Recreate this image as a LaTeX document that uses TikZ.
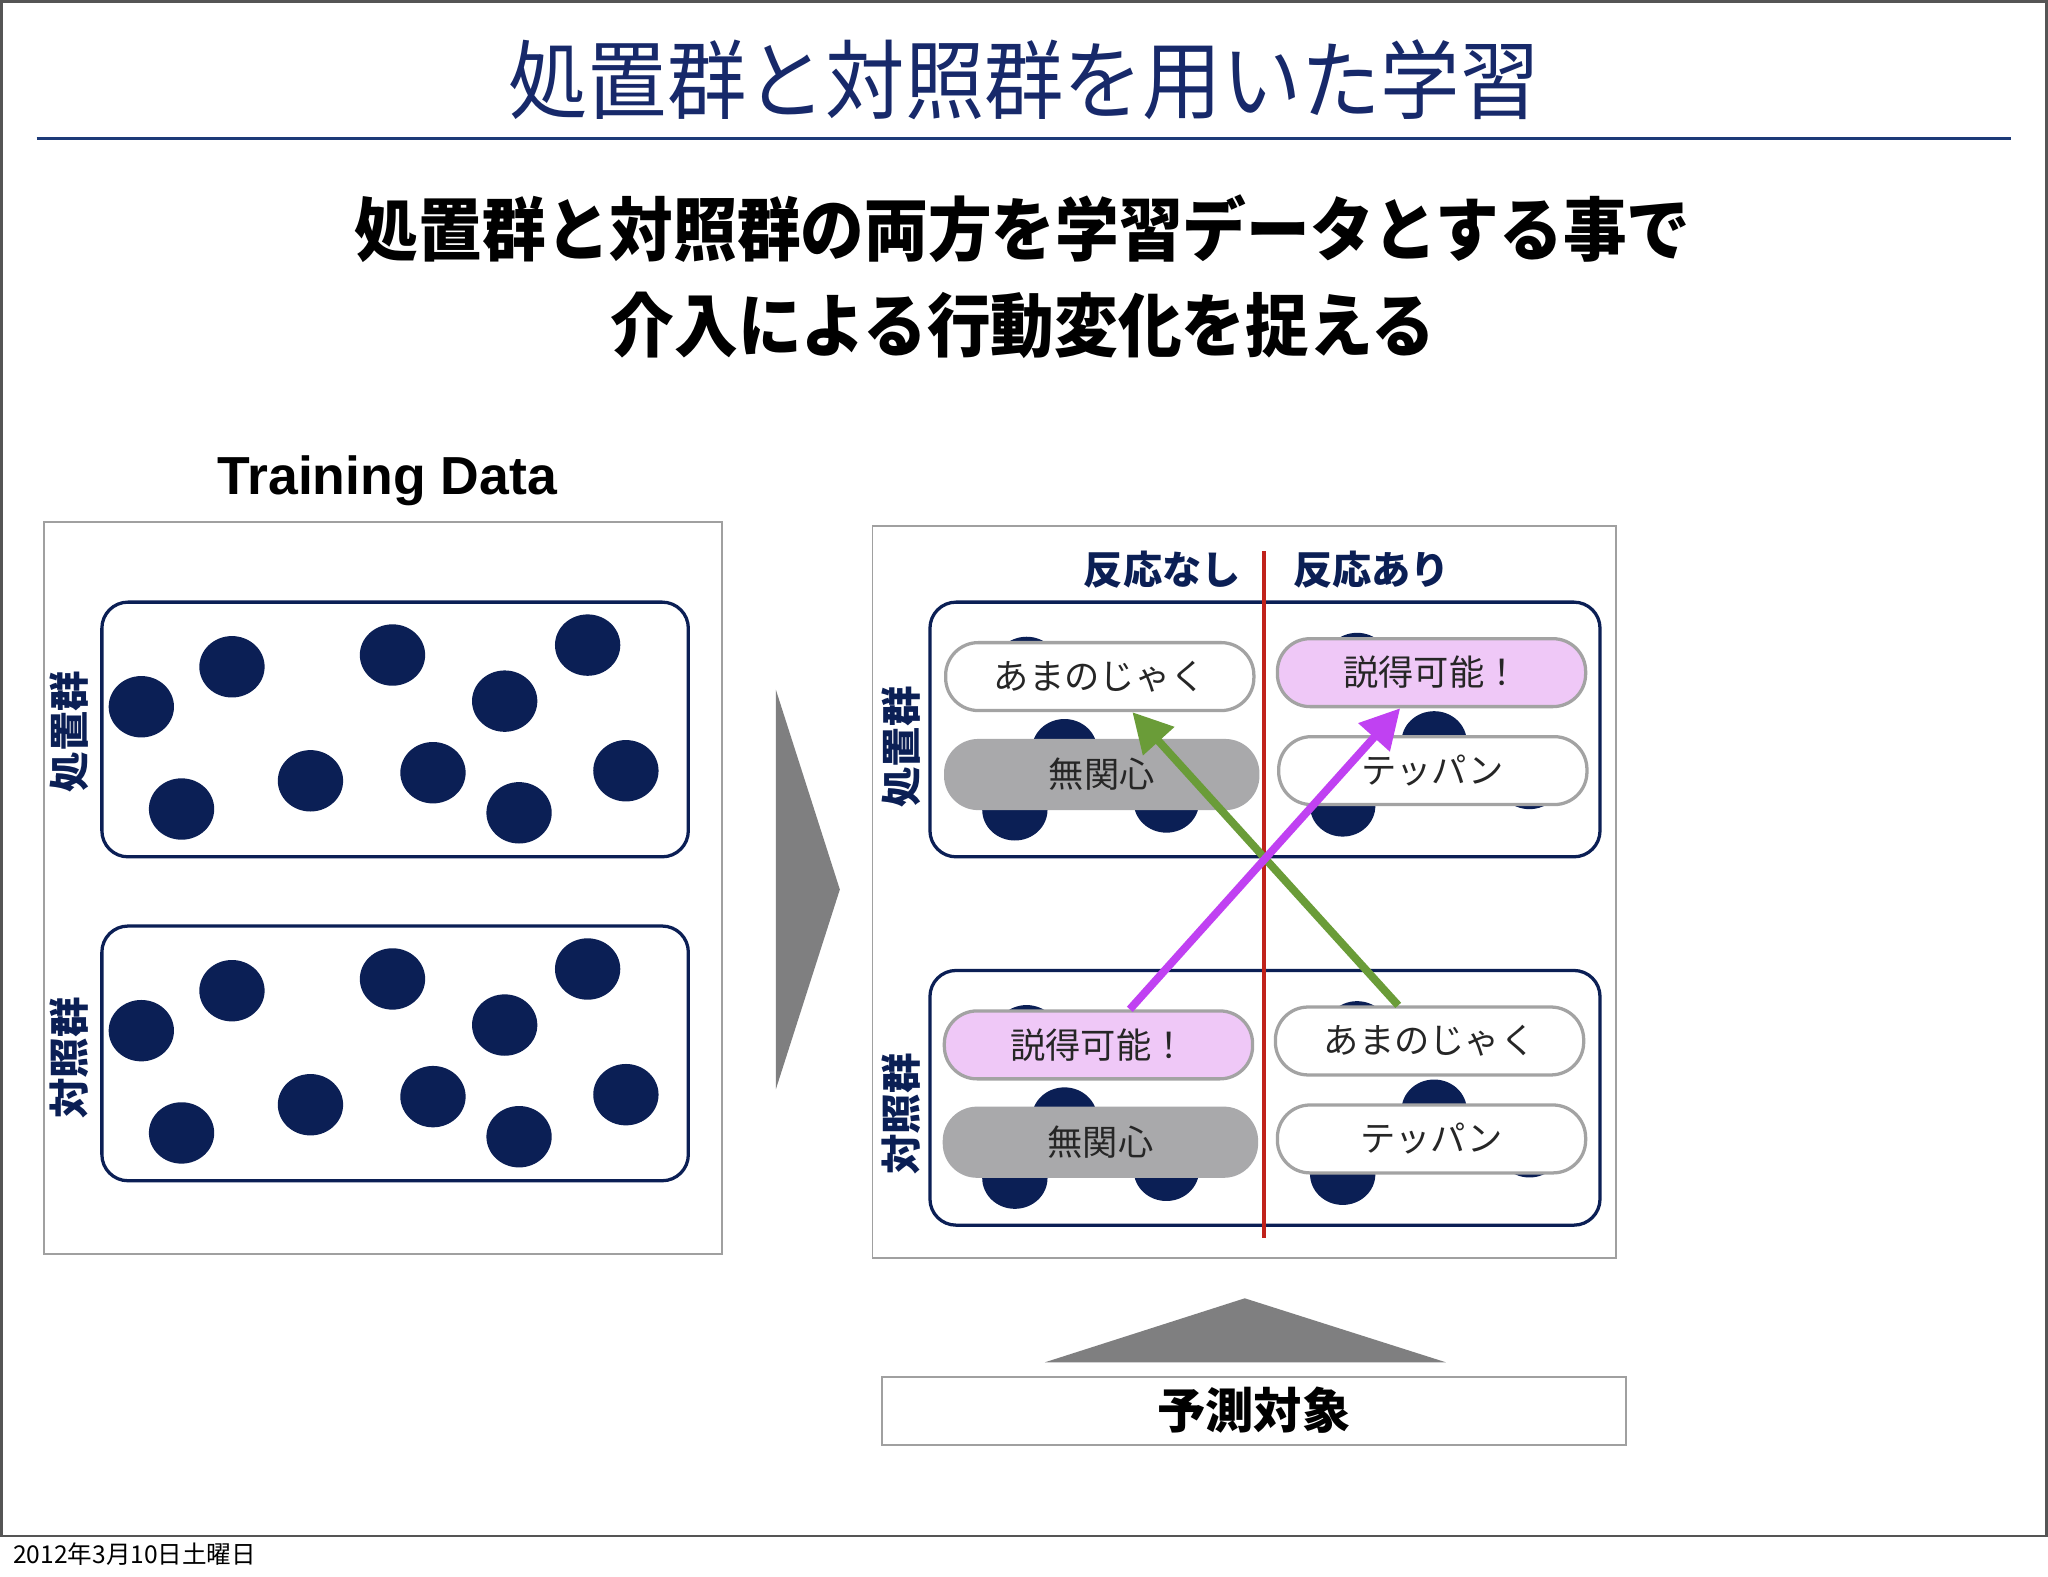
\documentclass[tikz,border=0pt]{standalone}
\usepackage{fontspec}
\setmainfont{Noto Sans CJK JP}
\newfontfamily\latinsans{Liberation Sans}
\usetikzlibrary{shapes.geometric,arrows.meta}
\definecolor{navy}{HTML}{0B1F55}
\definecolor{titlec}{HTML}{17296A}
\definecolor{rulec}{HTML}{1D3A78}
\definecolor{redl}{HTML}{C0221B}
\definecolor{greena}{HTML}{6A9C38}
\definecolor{purplea}{HTML}{C041F2}
\definecolor{pinkf}{HTML}{EFC8F7}
\definecolor{grayf}{HTML}{A9A9AB}
\definecolor{labb}{HTML}{A3A3A3}
\definecolor{panelb}{HTML}{A0A0A0}
\definecolor{trig}{HTML}{7F7F80}
\definecolor{framec}{HTML}{555555}
\newcommand{\fsz}[1]{\fontsize{#1}{#1}\selectfont}
\begin{document}
\begin{tikzpicture}[x=1pt,y=-1pt,
  dot/.style={ellipse,fill=navy,minimum width=50pt,minimum height=47pt,inner sep=0pt},
  panel/.style={draw=panelb,line width=1.5pt,fill=white,inner sep=0pt},
  grp/.style={draw=navy,line width=2.5pt,rounded corners=20pt,inner sep=0pt},
  lab/.style={draw=labb,line width=2.5pt,rounded corners=25pt,minimum width=236pt,minimum height=52pt,inner sep=0pt,font=\fsz{27},text=black!85},
  labw/.style={lab,fill=white},
  labp/.style={lab,fill=pinkf},
  labg/.style={lab,fill=grayf,draw=grayf,minimum width=239pt},
  vlab/.style={rotate=90,font=\bfseries\fsz{31},text=navy,inner sep=0pt},
  hlab/.style={font=\bfseries\fsz{30},text=navy,inner sep=0pt},
  tri/.style={fill=trig},
  garrow/.style={draw=greena,line width=6pt,-{Triangle[length=30pt,width=31pt]}},
  parrow/.style={draw=purplea,line width=6pt,-{Triangle[length=30pt,width=31pt]}}
]
\useasboundingbox (0,0) rectangle (1568,1207);
\fill[white] (0,0) rectangle (1568,1207);
\draw[framec,line width=2pt] (1,1) rectangle (1567,1176);

% title
\node[font=\fsz{66},text=titlec,xscale=0.92,inner sep=0pt] (title) at (784,61) {処置群と対照群を用いた学習};
\coordinate (rl) at (28,106);
\coordinate (rr) at (1540,106);
\draw[rulec,line width=2.5pt] (rl) -- (rr);

\node[font=\bfseries\fsz{53},xscale=0.92,inner sep=0pt] (sub1) at (783,175) {処置群と対照群の両方を学習データとする事で};
\node[font=\bfseries\fsz{53},xscale=0.92,inner sep=0pt] (sub2) at (783,249) {介入による行動変化を捉える};

% left panel
\node[font=\latinsans\bfseries\fsz{41},inner sep=0pt,anchor=base] (td) at (296.5,378.4) {Training Data};
\node[panel,minimum width=519pt,minimum height=560pt] (lp) at (293.5,680) {};
\node[grp,minimum width=449pt,minimum height=195pt] (lt) at (302.5,558.5) {};
\node[grp,minimum width=449pt,minimum height=195pt] (lc) at (302.5,806.5) {};
\node[vlab] (ltl) at (53,560) {処置群};
\node[vlab] (lcl) at (53,810) {対照群};
\foreach \x/\y [count=\i] in {108.2/541.1,177.6/510.5,300.5/501.5,449.9/493.9,386.4/536.8,139.0/619.4,237.7/597.8,331.5/591.6,397.4/622.3,479.2/590.1}{
  \node[dot] (ltd\i) at (\x,\y) {};
  \node[dot] (lcd\i) at (\x,\y+248) {};
}

% big arrow right
\fill[tri] (594,528) -- (643,681) -- (594,834) -- cycle;

% right panel
\node[panel,minimum width=569pt,minimum height=560pt] (rp) at (952.5,683) {};
\node[hlab,anchor=east] (nr) at (950,436) {反応なし};
\node[hlab,anchor=west] (ar) at (990,436) {反応あり};
\node[grp,minimum width=513pt,minimum height=195pt] (rt) at (968.5,558.5) {};
\node[grp,minimum width=513pt,minimum height=195pt] (rc) at (968.5,840.5) {};
\node[vlab] (rtl) at (690,572) {処置群};
\node[vlab] (rcl) at (690,853) {対照群};
\foreach \x/\y [count=\i] in {786/511,815/574,777/620,893/614,1039/508,1098/568,1028/617,1171/596}{
  \node[dot] (rtd\i) at (\x,\y) {};
  \node[dot] (rcd\i) at (\x,\y+282) {};
}
\coordinate (redt) at (968,422);
\coordinate (redb) at (968,948);
\draw[redl,line width=3pt] (redt) -- (redb);

\node[labw] (am1) at (842,518) {あまのじゃく};
\node[labg] (mk1) at (843.5,593) {無関心};
\node[labp] (st1) at (1096,515) {説得可能！};
\node[labw] (tp1) at (1097,590) {テッパン};

\node[labp] (st2) at (841,800) {説得可能！};
\node[labg] (mk2) at (842.5,874.5) {無関心};
\node[labw] (am2) at (1094.5,797) {あまのじゃく};
\node[labw] (tp2) at (1096,872) {テッパン};

\draw[garrow] ([xshift=-24pt]am2.north) -- ([xshift=25pt]am1.south);
\draw[parrow] ([xshift=24pt]st2.north) -- ([xshift=-24pt]st1.south);

% bottom
\fill[tri] (800,1043) -- (953,994) -- (1107,1043) -- cycle;
\node[draw=panelb,line width=1.5pt,fill=white,minimum width=570pt,minimum height=52pt,inner sep=0pt,font=\bfseries\fsz{37}] (pred) at (960,1080) {予測対象};

\node[anchor=west,font=\fsz{18.8},inner sep=0pt] (date) at (10,1190) {2012年3月10日土曜日};
\end{tikzpicture}
\end{document}
